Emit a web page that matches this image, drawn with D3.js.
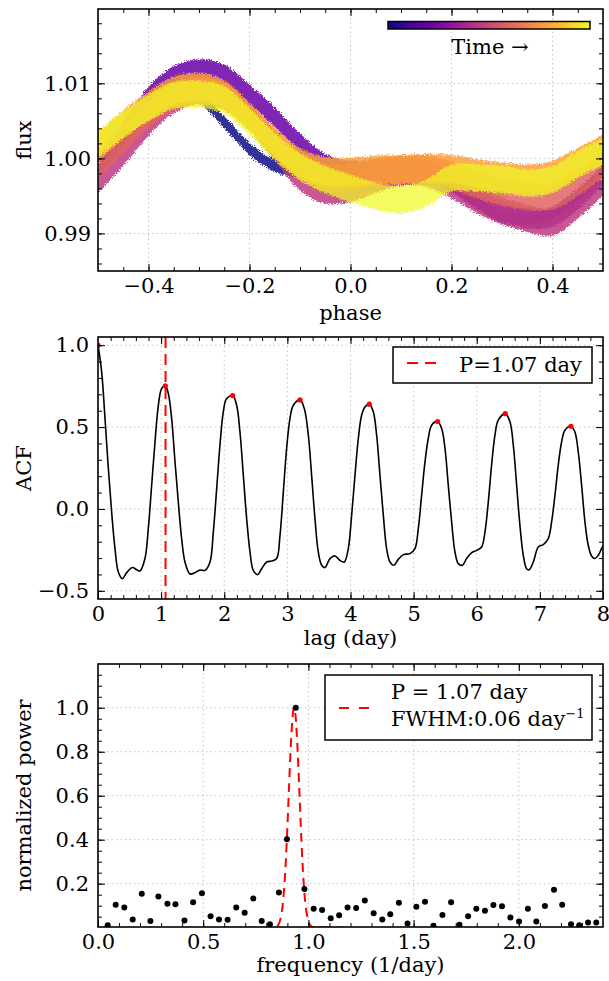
<!DOCTYPE html>
<html>
<head>
<meta charset="utf-8">
<script src="https://cdn.jsdelivr.net/npm/d3@7"></script>
<style>
  body { margin: 0; background: #fff; }
  svg text { font-family: "DejaVu Serif", serif; }
</style>
</head>
<body>
<div id="chart"></div>
<script>
// Folded light curve: one band per time slice, centre flux
const phaseGrid = [-0.5, -0.45, -0.4, -0.35, -0.3, -0.25, -0.2, -0.15, -0.1, -0.05, 0,
  0.05, 0.1, 0.15, 0.2, 0.25, 0.3, 0.35, 0.4, 0.45, 0.5];
const timeLevels = [0.0, 0.2, 0.45, 0.6, 0.78, 1.0];
const bandT0 = [0.9982, 1.0025, 1.0072, 1.0098, 1.0082, 1.0048, 1.0013, 0.9990, 0.9983, 0.9985, 0.9986,
  0.9990, 0.9990, 0.9983, 0.9966, 0.9942, 0.9922, 0.9920, 0.9928, 0.9952, 0.9982];
const bandT1 = [0.9988, 1.0035, 1.0082, 1.0110, 1.0119, 1.0112, 1.0085, 1.0055, 1.0020, 0.9993, 0.9984,
  0.9986, 0.9988, 0.9985, 0.9968, 0.9945, 0.9930, 0.9920, 0.9922, 0.9945, 0.9978];
const bandT2 = [0.9972, 1.0008, 1.0048, 1.0078, 1.0090, 1.0083, 1.0055, 1.0015, 0.9975, 0.9958, 0.9960,
  0.9972, 0.9982, 0.9980, 0.9965, 0.9945, 0.9930, 0.9920, 0.9915, 0.9938, 0.9968];
const bandT3 = [0.9990, 1.0025, 1.0058, 1.0082, 1.0090, 1.0082, 1.0055, 1.0020, 0.9990, 0.9975, 0.9976,
  0.9982, 0.9986, 0.9986, 0.9978, 0.9965, 0.9955, 0.9950, 0.9950, 0.9968, 0.9992];
const bandT4 = [1.0015, 1.0045, 1.0070, 1.0090, 1.0095, 1.0085, 1.0055, 1.0022, 0.9995, 0.9983, 0.9982,
  0.9985, 0.9985, 0.9987, 0.9986, 0.9980, 0.9976, 0.9973, 0.9978, 0.9995, 1.0012];
const bandT5 = [1.0018, 1.0045, 1.0067, 1.0084, 1.0085, 1.0078, 1.0049, 1.0016, 0.9989, 0.9972, 0.9960,
  0.9950, 0.9945, 0.9954, 0.9974, 0.9974, 0.9972, 0.9967, 0.9972, 0.9992, 1.0009];
const bandHalfWidth = [0.0008, 0.0013, 0.0018, 0.0018, 0.0019, 0.0018];
const bandOpacity = [0.85, 0.85, 0.85, 0.85, 0.85, 0.72];
const bands = [bandT0, bandT1, bandT2, bandT3, bandT4, bandT5];

// Autocorrelation function
const acfLag = [0, 0.058, 0.111, 0.164, 0.216, 0.269, 0.322, 0.385, 0.454, 0.544,
  0.612, 0.665, 0.744, 0.797, 0.850, 0.903, 0.956, 1.008, 1.067, 1.114,
  1.167, 1.220, 1.272, 1.325, 1.378, 1.457, 1.536, 1.616, 1.695, 1.774,
  1.827, 1.880, 1.932, 1.985, 2.038, 2.133, 2.196, 2.249, 2.302, 2.355,
  2.408, 2.460, 2.529, 2.592, 2.672, 2.751, 2.830, 2.883, 2.936, 2.988,
  3.041, 3.094, 3.200, 3.268, 3.332, 3.384, 3.437, 3.490, 3.543, 3.596,
  3.675, 3.754, 3.833, 3.902, 3.965, 4.018, 4.071, 4.124, 4.176, 4.229,
  4.298, 4.361, 4.414, 4.467, 4.520, 4.572, 4.625, 4.688, 4.757, 4.837,
  4.942, 5.021, 5.074, 5.127, 5.180, 5.232, 5.285, 5.380, 5.444, 5.497,
  5.549, 5.602, 5.655, 5.708, 5.771, 5.840, 5.919, 5.998, 6.077, 6.130,
  6.183, 6.235, 6.288, 6.341, 6.452, 6.526, 6.579, 6.632, 6.684, 6.737,
  6.790, 6.832, 6.896, 6.975, 7.054, 7.133, 7.186, 7.239, 7.291, 7.344,
  7.397, 7.492, 7.555, 7.608, 7.661, 7.714, 7.766, 7.819, 7.872, 7.925,
  7.977, 8.0];
const acfValue = [1.0, 0.837, 0.552, 0.246, -0.018, -0.242, -0.385, -0.426, -0.389, -0.358,
  -0.371, -0.379, -0.303, -0.120, 0.145, 0.409, 0.633, 0.735, 0.752, 0.705,
  0.552, 0.287, 0.043, -0.181, -0.324, -0.397, -0.389, -0.373, -0.375, -0.324,
  -0.141, 0.124, 0.389, 0.593, 0.674, 0.692, 0.633, 0.470, 0.206, -0.059,
  -0.263, -0.375, -0.401, -0.365, -0.324, -0.318, -0.303, -0.161, 0.104, 0.369,
  0.552, 0.633, 0.666, 0.613, 0.450, 0.206, -0.059, -0.263, -0.344, -0.358,
  -0.303, -0.287, -0.314, -0.324, -0.242, -0.039, 0.206, 0.430, 0.572, 0.623,
  0.640, 0.593, 0.450, 0.206, -0.039, -0.242, -0.324, -0.344, -0.308, -0.279,
  -0.273, -0.242, -0.120, 0.084, 0.287, 0.430, 0.511, 0.534, 0.491, 0.369,
  0.145, -0.079, -0.263, -0.334, -0.344, -0.303, -0.267, -0.253, -0.232, -0.141,
  0.043, 0.267, 0.450, 0.542, 0.582, 0.532, 0.389, 0.145, -0.100, -0.283,
  -0.365, -0.371, -0.324, -0.232, -0.218, -0.181, -0.079, 0.084, 0.267, 0.409,
  0.481, 0.505, 0.470, 0.348, 0.145, -0.079, -0.222, -0.287, -0.303, -0.283,
  -0.242, -0.225];
const peakLag = [0, 1.067, 2.133, 3.200, 4.298, 5.380, 6.452, 7.492];
const peakAcf = [1.0, 0.752, 0.692, 0.666, 0.640, 0.534, 0.582, 0.505];
const acfPeriod = 1.07;

// Periodogram
const freq = [0.046, 0.084, 0.125, 0.165, 0.208, 0.249, 0.287, 0.330, 0.368, 0.411,
  0.452, 0.494, 0.535, 0.575, 0.616, 0.657, 0.697, 0.738, 0.778, 0.817,
  0.860, 0.898, 0.940, 0.981, 1.025, 1.065, 1.106, 1.146, 1.186, 1.227,
  1.268, 1.310, 1.351, 1.389, 1.430, 1.471, 1.513, 1.554, 1.594, 1.637,
  1.678, 1.718, 1.759, 1.798, 1.839, 1.879, 1.920, 1.960, 2.001, 2.043,
  2.083, 2.124, 2.167, 2.206, 2.248, 2.287, 2.329, 2.368];
const power = [0.011, 0.104, 0.092, 0.037, 0.154, 0.030, 0.142, 0.109, 0.107, 0.033,
  0.115, 0.157, 0.052, 0.037, 0.036, 0.092, 0.068, 0.133, 0.030, 0.015,
  0.160, 0.402, 1.0, 0.176, 0.086, 0.080, 0.043, 0.057, 0.092, 0.089,
  0.124, 0.065, 0.037, 0.061, 0.113, 0.019, 0.095, 0.118, 0.009, 0.058,
  0.115, 0.013, 0.052, 0.086, 0.077, 0.103, 0.097, 0.046, 0.028, 0.086,
  0.028, 0.098, 0.172, 0.104, 0.016, 0.011, 0.024, 0.024];
const fitFreq = [0.64, 0.80, 0.837, 0.857, 0.867, 0.877, 0.887, 0.897, 0.907, 0.917, 0.927,
  0.932, 0.937, 0.947, 0.957, 0.967, 0.977, 0.987, 0.997, 1.007, 1.027, 1.23];
const fitPower = [0, 0, 0.001, 0.013, 0.04, 0.097, 0.21, 0.39, 0.62, 0.84, 0.98,
  1.0, 0.98, 0.84, 0.62, 0.39, 0.21, 0.097, 0.04, 0.013, 0.001, 0];

const width = 609, height = 981;
const left = 98, plotW = 505;
const fontSize = "21px";

const svg = d3.select("#chart").append("svg")
  .attr("width", width)
  .attr("height", height);
const defs = svg.append("defs");

// grainy edges so the bands read like a dense scatter
const grain = defs.append("filter").attr("id", "grain")
  .attr("x", "-5%").attr("y", "-10%").attr("width", "110%").attr("height", "120%");
grain.append("feTurbulence")
  .attr("type", "fractalNoise").attr("baseFrequency", 0.9).attr("numOctaves", 2).attr("result", "noise");
grain.append("feDisplacementMap")
  .attr("in", "SourceGraphic").attr("in2", "noise").attr("scale", 6)
  .attr("xChannelSelector", "R").attr("yChannelSelector", "G");

function addPanel(id, top, h, xDomain, yDomain) {
  const g = svg.append("g").attr("transform", `translate(${left},${top})`);
  const x = d3.scaleLinear().domain(xDomain).range([0, plotW]);
  const y = d3.scaleLinear().domain(yDomain).range([h, 0]);
  defs.append("clipPath").attr("id", id)
    .append("rect").attr("width", plotW).attr("height", h);
  return { g, x, y, h, clip: `url(#${id})` };
}

function addGrid(p, xs, ys) {
  const grid = p.g.append("g")
    .attr("stroke", "#c4c4c4")
    .attr("stroke-width", 1)
    .attr("stroke-dasharray", "1.5,3");
  grid.selectAll(".gx").data(xs).enter().append("line")
    .attr("x1", d => p.x(d)).attr("x2", d => p.x(d))
    .attr("y1", 0).attr("y2", p.h);
  grid.selectAll(".gy").data(ys).enter().append("line")
    .attr("y1", d => p.y(d)).attr("y2", d => p.y(d))
    .attr("x1", 0).attr("x2", plotW);
}

function addAxes(p, cfg) {
  const style = sel => {
    sel.attr("font-size", 21).attr("font-family", "DejaVu Serif").attr("color", "#000");
    sel.select(".domain").remove();
  };
  const bottom = `translate(0,${p.h})`;
  // labelled major ticks, pointing inwards
  p.g.append("g").attr("transform", bottom)
    .call(d3.axisBottom(p.x).tickValues(cfg.xLabels).tickSize(-7).tickPadding(7).tickFormat(cfg.xFmt))
    .call(style);
  p.g.append("g")
    .call(d3.axisLeft(p.y).tickValues(cfg.yLabels).tickSize(-7).tickPadding(cfg.yPad).tickFormat(cfg.yFmt))
    .call(style);
  // unlabelled ticks on all four sides
  p.g.append("g").attr("transform", bottom)
    .call(d3.axisBottom(p.x).tickValues(cfg.xMinor).tickSize(-4).tickFormat("")).call(style);
  p.g.append("g")
    .call(d3.axisTop(p.x).tickValues(cfg.xMajor).tickSize(-7).tickFormat("")).call(style);
  p.g.append("g")
    .call(d3.axisTop(p.x).tickValues(cfg.xMinor).tickSize(-4).tickFormat("")).call(style);
  p.g.append("g")
    .call(d3.axisLeft(p.y).tickValues(cfg.yMinor).tickSize(-4).tickFormat("")).call(style);
  p.g.append("g").attr("transform", `translate(${plotW},0)`)
    .call(d3.axisRight(p.y).tickValues(cfg.yMajor).tickSize(-7).tickFormat("")).call(style);
  p.g.append("g").attr("transform", `translate(${plotW},0)`)
    .call(d3.axisRight(p.y).tickValues(cfg.yMinor).tickSize(-4).tickFormat("")).call(style);

  // frame
  p.g.append("rect")
    .attr("width", plotW)
    .attr("height", p.h)
    .attr("fill", "none")
    .attr("stroke", "#000")
    .attr("stroke-width", 1.6);

  // axis titles
  p.g.append("text")
    .attr("x", plotW / 2)
    .attr("y", cfg.xTitleY)
    .attr("text-anchor", "middle")
    .style("font-size", fontSize)
    .text(cfg.xTitle);
  p.g.append("text")
    .attr("transform", `translate(${31 - left},${p.h / 2})rotate(-90)`)
    .attr("text-anchor", "middle")
    .style("font-size", fontSize)
    .text(cfg.yTitle);
}

const f1 = d3.format(".1f");
const f2 = d3.format(".2f");

// ---------------- Panel 1: phase-folded flux ----------------
const p1 = addPanel("clip1", 9, 262, [-0.5, 0.5], [0.985, 1.0199]);
addGrid(p1, [-0.4, -0.2, 0, 0.2, 0.4], [0.99, 1.0, 1.01]);

const bandLayer = p1.g.append("g").attr("clip-path", p1.clip);
bands.forEach((centre, i) => {
  const hw = bandHalfWidth[i];
  const area = d3.area()
    .x((d, j) => p1.x(phaseGrid[j]))
    .y0(d => p1.y(d - hw))
    .y1(d => p1.y(d + hw))
    .curve(d3.curveCatmullRom);
  bandLayer.append("path")
    .datum(centre)
    .attr("d", area)
    .attr("fill", d3.interpolatePlasma(timeLevels[i]))
    .attr("fill-opacity", bandOpacity[i])
    .attr("filter", "url(#grain)");
});

addAxes(p1, {
  xLabels: [-0.4, -0.2, 0, 0.2, 0.4], xMajor: [-0.4, -0.2, 0, 0.2, 0.4],
  xMinor: d3.range(-0.45, 0.5, 0.05), xFmt: f1,
  yLabels: [0.99, 1.0, 1.01], yMajor: [0.99, 1.0, 1.01],
  yMinor: d3.range(0.986, 1.0195, 0.002), yFmt: f2, yPad: 7,
  xTitle: "phase", xTitleY: 311, yTitle: "flux"
});

// colour bar for time
const grad = defs.append("linearGradient").attr("id", "plasma");
d3.range(0, 1.0001, 0.1).forEach(t => {
  grad.append("stop").attr("offset", t).attr("stop-color", d3.interpolatePlasma(t));
});
p1.g.append("rect")
  .attr("x", 290).attr("y", 12.5)
  .attr("width", 202).attr("height", 7.5)
  .attr("fill", "url(#plasma)")
  .attr("stroke", "#000")
  .attr("stroke-width", 1.5);
p1.g.append("text")
  .attr("x", 392).attr("y", 45)
  .attr("text-anchor", "middle")
  .style("font-size", fontSize)
  .text("Time \u2192");

// ---------------- Panel 2: ACF ----------------
const p2 = addPanel("clip2", 337, 262, [0, 8], [-0.55, 1.05]);
addGrid(p2, d3.range(1, 8), [-0.5, 0, 0.5, 1.0]);

const acfLayer = p2.g.append("g").attr("clip-path", p2.clip);
acfLayer.append("line")
  .attr("x1", p2.x(acfPeriod)).attr("x2", p2.x(acfPeriod))
  .attr("y1", 0).attr("y2", p2.h)
  .attr("stroke", "#ff0000")
  .attr("stroke-width", 2)
  .attr("stroke-dasharray", "11,6");
acfLayer.append("path")
  .datum(acfLag)
  .attr("d", d3.line()
    .x(d => p2.x(d))
    .y((d, i) => p2.y(acfValue[i]))
    .curve(d3.curveCatmullRom))
  .attr("fill", "none")
  .attr("stroke", "#000")
  .attr("stroke-width", 1.6);
acfLayer.selectAll(".peak")
  .data(peakLag)
  .enter()
  .append("circle")
  .attr("cx", d => p2.x(d))
  .attr("cy", (d, i) => p2.y(peakAcf[i]))
  .attr("r", 2.6)
  .attr("fill", "#ff0000");

addAxes(p2, {
  xLabels: d3.range(0, 9), xMajor: d3.range(1, 8),
  xMinor: d3.range(0.2, 8, 0.2), xFmt: d3.format("d"),
  yLabels: [-0.5, 0, 0.5, 1.0], yMajor: [-0.5, 0, 0.5, 1.0],
  yMinor: d3.range(-0.5, 1.01, 0.1), yFmt: f1, yPad: 9,
  xTitle: "lag (day)", xTitleY: 308, yTitle: "ACF"
});

// legend
const leg2 = p2.g.append("g").attr("transform", "translate(295,10)");
leg2.append("rect")
  .attr("width", 199).attr("height", 36)
  .attr("fill", "#fff").attr("stroke", "#000").attr("stroke-width", 1.5);
leg2.append("line")
  .attr("x1", 14).attr("x2", 44).attr("y1", 16).attr("y2", 16)
  .attr("stroke", "#ff0000").attr("stroke-width", 2).attr("stroke-dasharray", "11,7");
leg2.append("text")
  .attr("x", 66).attr("y", 25)
  .style("font-size", fontSize)
  .text("P=1.07 day");

// ---------------- Panel 3: periodogram ----------------
const p3 = addPanel("clip3", 664, 263, [0, 2.4], [0.003, 1.199]);
addGrid(p3, [0.5, 1.0, 1.5, 2.0], [0.2, 0.4, 0.6, 0.8, 1.0]);

const pgLayer = p3.g.append("g").attr("clip-path", p3.clip);
pgLayer.append("path")
  .datum(fitFreq)
  .attr("d", d3.line()
    .x(d => p3.x(d))
    .y((d, i) => p3.y(fitPower[i]))
    .curve(d3.curveMonotoneX))
  .attr("fill", "none")
  .attr("stroke", "#ff0000")
  .attr("stroke-width", 2)
  .attr("stroke-dasharray", "9,6");
pgLayer.selectAll(".pt")
  .data(freq)
  .enter()
  .append("circle")
  .attr("cx", d => p3.x(d))
  .attr("cy", (d, i) => p3.y(power[i]))
  .attr("r", 3)
  .attr("fill", "#000");

addAxes(p3, {
  xLabels: [0, 0.5, 1.0, 1.5, 2.0], xMajor: [0.5, 1.0, 1.5, 2.0],
  xMinor: d3.range(0.1, 2.4, 0.1), xFmt: f1,
  yLabels: [0.2, 0.4, 0.6, 0.8, 1.0], yMajor: [0.2, 0.4, 0.6, 0.8, 1.0],
  yMinor: d3.range(0.05, 1.2, 0.05), yFmt: f1, yPad: 9,
  xTitle: "frequency (1/day)", xTitleY: 308, yTitle: "normalized power"
});

const leg3 = p3.g.append("g").attr("transform", "translate(227,11)");
leg3.append("rect")
  .attr("width", 267).attr("height", 65)
  .attr("fill", "#fff").attr("stroke", "#000").attr("stroke-width", 1.5);
leg3.append("line")
  .attr("x1", 14).attr("x2", 44).attr("y1", 33).attr("y2", 33)
  .attr("stroke", "#ff0000").attr("stroke-width", 2).attr("stroke-dasharray", "10,10");
leg3.append("text")
  .attr("x", 66).attr("y", 24)
  .style("font-size", fontSize)
  .text("P = 1.07 day");
const fwhm = leg3.append("text")
  .attr("x", 66).attr("y", 51)
  .style("font-size", fontSize)
  .text("FWHM:0.06 day");
fwhm.append("tspan")
  .attr("dy", -8)
  .style("font-size", "13px")
  .text("\u22121");
</script>
</body>
</html>
